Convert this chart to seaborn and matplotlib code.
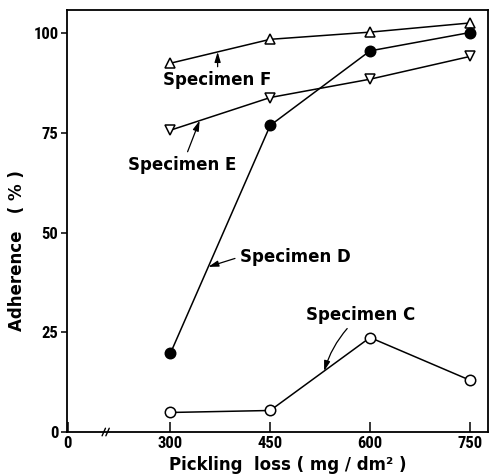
import numpy as np
import pandas as pd
import matplotlib
matplotlib.use("Agg")
import matplotlib.pyplot as plt
import seaborn as sns
from matplotlib import font_manager

sns.set_style("ticks")

# ---- data ----
pickling_loss = [300, 450, 600, 750]
specimen_F = [92.5, 98.5, 100.3, 102.6]
specimen_E = [75.7, 83.9, 88.5, 94.2]
specimen_D = [19.7, 76.9, 95.6, 100.2]
specimen_C = [4.9, 5.4, 23.7, 13.0]
x_ticks = [0, 300, 450, 600, 750]
y_ticks = [0, 25, 50, 75, 100]

names = {f.name for f in font_manager.fontManager.ttflist}
narrow = None
for cand in ["Liberation Sans Narrow", "Roboto Condensed", "DejaVu Sans Condensed"]:
    if cand in names:
        narrow = cand
        break
if narrow is None:
    narrow = "Liberation Sans"
    tick_size = 10.5
else:
    tick_size = 12
txt_font = ["DejaVu Sans"]

plt.rcParams["font.family"] = ["DejaVu Sans"]
for k in ["text.color", "axes.labelcolor", "xtick.color", "ytick.color", "axes.edgecolor"]:
    plt.rcParams[k] = "black"

fig = plt.figure(figsize=(4.92, 4.75), dpi=100)
ax = fig.add_axes([0.1356, 0.0905, 0.856, 0.888])

# broken x axis: 0..300 compressed
def fwd(x):
    x = np.asarray(x, dtype=float)
    return np.where(x >= 300, x, 146.0 + x * (154.0 / 300.0))

def inv(y):
    y = np.asarray(y, dtype=float)
    return np.where(y >= 300, y, (y - 146.0) * (300.0 / 154.0))

ax.set_xscale("function", functions=(fwd, inv))

lw = 1.1
ms = 7.5
series = [
    (specimen_F, "^", "white"),
    (specimen_E, "v", "white"),
    (specimen_D, "o", "black"),
    (specimen_C, "o", "white"),
]
for vals, mk, fc in series:
    sns.lineplot(x=pickling_loss, y=vals, ax=ax, color="black", lw=lw,
                 marker=mk, markersize=ms, markerfacecolor=fc,
                 markeredgecolor="black", markeredgewidth=1.1, clip_on=False)

ax.set_xlim(-3.3, 777)
ax.set_ylim(0, 105.8)
ax.set_xticks(x_ticks)
ax.set_xticklabels([str(v) for v in x_ticks])
ax.set_yticks(y_ticks)
ax.set_yticklabels([str(v) for v in y_ticks])

for lab in ax.get_xticklabels() + ax.get_yticklabels():
    lab.set_family([narrow, "DejaVu Sans"])
    lab.set_fontsize(tick_size)
    lab.set_fontweight("bold")
    lab.set_color("black")

ax.tick_params(axis="x", direction="in", length=7, width=1.1, pad=3, colors="black")
ax.tick_params(axis="y", direction="out", length=4, width=1.1, pad=2, colors="black")

for sp in ax.spines.values():
    sp.set_color("black")
    sp.set_linewidth(1.3)

ax.set_xlabel("Pickling  loss ( mg / dm² )", fontsize=12, fontweight="bold",
              family=txt_font, color="black")
ax.xaxis.set_label_coords(0.526, -0.057)
ax.set_ylabel("Adherence   ( % )", fontsize=12, fontweight="bold", family=txt_font,
              color="black")
ax.yaxis.set_label_coords(-0.097, 0.43)

# axis break mark
for dx in (0.088, 0.097):
    ax.plot([dx - 0.004, dx + 0.004], [-0.009, 0.009], transform=ax.transAxes,
            color="black", lw=1.0, clip_on=False)

# annotations
arrow = dict(arrowstyle="-|>,head_length=0.5,head_width=0.15", color="black",
             lw=0.9, shrinkA=1, shrinkB=0)
def on_line(xv, vals):
    return float(np.interp(xv, pickling_loss, vals))

kw = dict(fontsize=12, fontweight="bold", family=txt_font, color="black")
ax.annotate("Specimen F", xy=(371, on_line(371, specimen_F)), xytext=(371, 88.2),
            ha="center", va="center", arrowprops=arrow, **kw)
ax.annotate("Specimen E", xy=(344, on_line(344, specimen_E)), xytext=(318, 66.9),
            ha="center", va="center", arrowprops=arrow, **kw)
ax.annotate("Specimen D", xy=(357, on_line(357, specimen_D)), xytext=(404, 43.9),
            ha="left", va="center",
            arrowprops=dict(arrow, relpos=(0, 0.5)), **kw)
ax.annotate("Specimen C", xy=(531, on_line(531, specimen_C)), xytext=(586, 29.3),
            ha="center", va="center",
            arrowprops=dict(arrow, connectionstyle="arc3,rad=0.15"), **kw)

fig.savefig("out.png", dpi=100, facecolor="white")
